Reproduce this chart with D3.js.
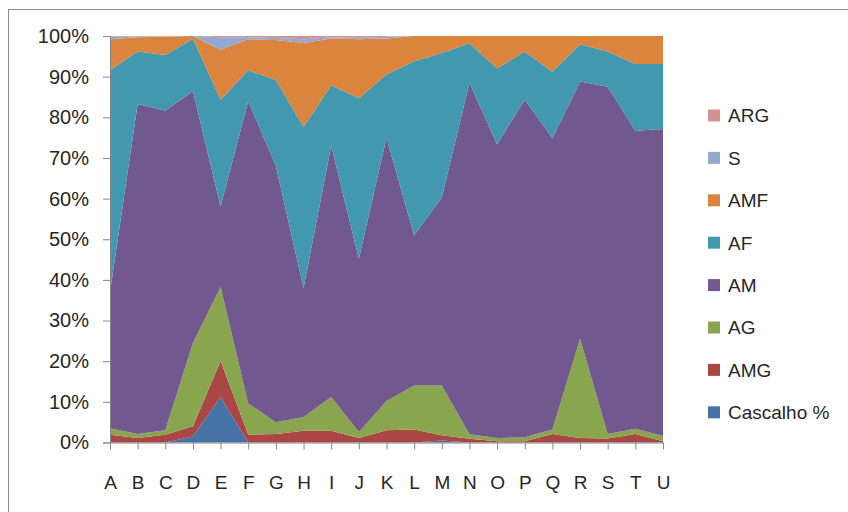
<!DOCTYPE html>
<html>
<head>
<meta charset="utf-8">
<script src="https://cdn.jsdelivr.net/npm/d3@7"></script>
<style>
  html, body { margin: 0; padding: 0; background: #fff; }
  svg { display: block; }
  text { font-family: "Liberation Sans", Arial, sans-serif; fill: #262626; }
</style>
</head>
<body>
<svg id="chart" width="848" height="512"></svg>
<script>
// Sample points along the section
const categories = ["A","B","C","D","E","F","G","H","I","J","K","L","M","N","O","P","Q","R","S","T","U"];

// Grain-size fractions (%) per sample
const cascalho = [0, 0, 0, 1.5, 11.2, 0, 0, 0, 0, 0, 0, 0, 0.5, 0, 0, 0, 0, 0, 0, 0, 0];
const amg      = [1.9, 1.1, 1.9, 2.5, 8.9, 1.9, 2.1, 2.9, 2.9, 1.1, 3.0, 3.2, 1.3, 0.9, 0.3, 0.3, 2.1, 1.1, 1.0, 2.1, 0.3];
const ag       = [1.6, 1.0, 1.1, 20.5, 18.2, 7.7, 2.9, 3.4, 8.3, 1.5, 7.2, 10.8, 12.2, 1.1, 0.8, 1.0, 1.1, 24.4, 1.1, 1.3, 1.3];
const am       = [33.5, 81.2, 78.6, 62.0, 19.8, 74.4, 63.0, 31.7, 61.8, 42.6, 64.8, 37.0, 46.3, 86.5, 72.3, 83.0, 71.7, 63.3, 85.4, 73.3, 75.5];
const af       = [54.6, 12.9, 13.7, 12.8, 26.3, 7.6, 21.2, 39.6, 14.9, 39.5, 15.5, 42.8, 35.5, 9.7, 18.6, 11.9, 16.3, 9.2, 8.7, 16.4, 16.0];
const amf      = [7.6, 3.5, 4.5, 0.7, 12.3, 7.6, 9.8, 20.7, 11.5, 14.5, 8.9, 6.2, 4.2, 1.8, 8.0, 3.8, 8.8, 2.0, 3.8, 6.9, 6.9];
const s        = [0.6, 0.2, 0.1, 0, 3.1, 0.5, 0.5, 0.9, 0.3, 0.4, 0.4, 0, 0, 0, 0, 0, 0, 0, 0, 0, 0];
const arg      = [0.2, 0.1, 0.1, 0, 0.3, 0.3, 0.5, 0.8, 0.3, 0.4, 0.2, 0, 0, 0, 0, 0, 0, 0, 0, 0, 0];

const yTicks = [0, 0.1, 0.2, 0.3, 0.4, 0.5, 0.6, 0.7, 0.8, 0.9, 1];

// Stacking order, bottom to top
const series = [
  { key: "Cascalho %", values: cascalho, color: "#4572A7" },
  { key: "AMG",        values: amg,      color: "#AA4643" },
  { key: "AG",         values: ag,       color: "#89A54E" },
  { key: "AM",         values: am,       color: "#71588F" },
  { key: "AF",         values: af,       color: "#4198AF" },
  { key: "AMF",        values: amf,      color: "#DB843D" },
  { key: "S",          values: s,        color: "#93A9CF" },
  { key: "ARG",        values: arg,      color: "#D19392" }
];

const rows = categories.map((c, i) => {
  const r = { cat: c };
  series.forEach(d => { r[d.key] = d.values[i]; });
  return r;
});

const svg = d3.select("#chart");

// Chart frame
svg.append("rect")
  .attr("x", 8.5).attr("y", 9.5)
  .attr("width", 850).attr("height", 520)
  .attr("fill", "none").attr("stroke", "#8c8c8c").attr("stroke-width", 1);

const plot = { left: 110, right: 663, top: 36, bottom: 442.5 };

const x = d3.scalePoint().domain(categories).range([plot.left, plot.right]);
const y = d3.scaleLinear().domain([0, 1]).range([plot.bottom, plot.top]);

const stack = d3.stack()
  .keys(series.map(d => d.key))
  .offset(d3.stackOffsetExpand);
const layers = stack(rows);

const area = d3.area()
  .x(d => x(d.data.cat))
  .y0(d => y(d[0]))
  .y1(d => y(d[1]));

svg.append("g")
  .selectAll("path")
  .data(layers)
  .join("path")
  .attr("d", area)
  .attr("fill", (d, i) => series[i].color);

// Y axis
const yAxis = svg.append("g")
  .attr("transform", `translate(${plot.left},0)`)
  .call(d3.axisLeft(y).tickValues(yTicks).tickFormat(d3.format(".0%")).tickSize(7).tickPadding(14));
yAxis.select(".domain").attr("stroke", "#868686");
yAxis.selectAll(".tick line").attr("stroke", "#868686");
yAxis.selectAll(".tick text")
  .attr("font-size", "20px")
  .attr("fill", "#262626")
  .attr("font-family", "\"Liberation Sans\", Arial, sans-serif");

// X axis
const xAxis = svg.append("g")
  .attr("transform", `translate(0,${plot.bottom})`)
  .call(d3.axisBottom(x).tickSize(7).tickPadding(26).tickSizeOuter(0));
xAxis.select(".domain").attr("stroke", "#868686");
xAxis.selectAll(".tick line").attr("stroke", "#868686");
xAxis.selectAll(".tick text")
  .attr("font-size", "19px")
  .attr("fill", "#262626")
  .attr("font-family", "\"Liberation Sans\", Arial, sans-serif");

// Legend, top entry is the top layer
const legendItems = series.slice().reverse();
const legend = svg.append("g");
const lg = legend.selectAll("g")
  .data(legendItems)
  .join("g")
  .attr("transform", (d, i) => `translate(708,${115.5 + i * 42.4})`);
lg.append("rect")
  .attr("x", 0).attr("y", -6)
  .attr("width", 12).attr("height", 12)
  .attr("fill", d => d.color);
lg.append("text")
  .attr("x", 20).attr("y", 0)
  .attr("dy", "0.36em")
  .attr("font-size", "19px")
  .text(d => d.key);
</script>
</body>
</html>
